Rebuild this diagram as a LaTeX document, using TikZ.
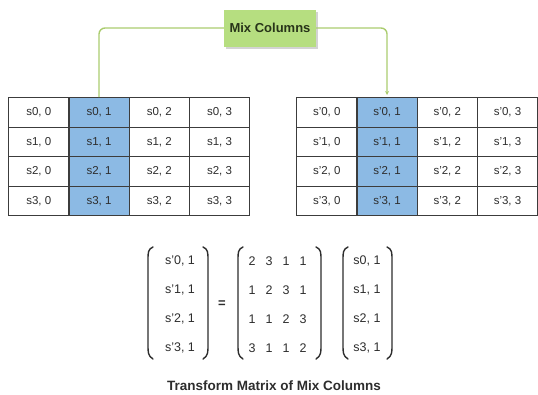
\documentclass[tikz,border=0pt]{standalone}
\usepackage{fontspec}
\setmainfont{Liberation Sans}
\usetikzlibrary{shadows,arrows.meta}
\definecolor{cellblue}{RGB}{140,186,228}
\definecolor{boxgreen}{RGB}{182,222,128}
\definecolor{linegreen}{RGB}{170,204,110}
\definecolor{txt}{RGB}{45,45,45}
\definecolor{boxtxt}{RGB}{40,52,25}
\definecolor{gridline}{RGB}{60,60,60}
\begin{document}
\begin{tikzpicture}[x=1pt,y=-1pt,
  cell/.style={draw=gridline, line width=1.3pt, minimum width=60.25pt, minimum height=29.5pt,
    inner sep=0pt, anchor=north west, font=\fontsize{11.5}{13}\selectfont, text=txt},
  hicell/.style={cell, fill=cellblue},
  mixbox/.style={fill=boxgreen, minimum width=92pt, minimum height=37pt, inner sep=2pt,
    font=\bfseries\fontsize{13}{15}\selectfont, text=boxtxt,
    drop shadow={shadow xshift=1.5pt, shadow yshift=-2.5pt, opacity=0.35}},
  conn/.style={draw=linegreen, line width=1.4pt, rounded corners=6pt},
  entry/.style={font=\fontsize{12.5}{14}\selectfont, text=txt, inner sep=0pt},
  paren/.style={draw=txt, line width=1.4pt, line cap=round},
  caption/.style={font=\bfseries\fontsize{13.5}{16}\selectfont, text=txt}]
\useasboundingbox (0,0) rectangle (538,394);

% left state table
\foreach \r in {0,...,3}{
  \foreach \c in {0,...,3}{
    \ifnum\c=1
      \node[hicell] (L-\r-\c) at ({8+60.25*\c},{97+29.5*\r}) {s\r, \c};
    \else
      \node[cell] (L-\r-\c) at ({8+60.25*\c},{97+29.5*\r}) {s\r, \c};
    \fi
  }
}
% right state table
\foreach \r in {0,...,3}{
  \foreach \c in {0,...,3}{
    \ifnum\c=1
      \node[hicell] (R-\r-\c) at ({296+60.25*\c},{97+29.5*\r}) {s'\r, \c};
    \else
      \node[cell] (R-\r-\c) at ({296+60.25*\c},{97+29.5*\r}) {s'\r, \c};
    \fi
  }
}

% Mix Columns box and connectors
\node[mixbox] (mix) at (270,28) {Mix Columns};
\draw[conn] (mix.west) -| (L-0-1.north);
\draw[conn, -{Stealth[length=4pt,width=4pt]}] (mix.east) -| ([yshift=2pt]R-0-1.north);

% equation: left vector
\foreach \r/\y in {0/261,1/290,2/319,3/348}{
  \node[entry] (a\r) at (180,\y) {s'\r, 1};
}
\draw[paren] (153,247) .. controls (148,249) and (148,253) .. (148,259) -- (148,346) .. controls (148,352) and (148,356) .. (153,359);
\draw[paren] (203,247) .. controls (208,249) and (208,253) .. (208,259) -- (208,346) .. controls (208,352) and (208,356) .. (203,359);
\node[entry, font=\bfseries\fontsize{13}{15}\selectfont] (eq) at (222,304) {=};

% transform matrix
\foreach \r/\y/\a/\b/\c/\d in {0/261/2/3/1/1, 1/290/1/2/3/1, 2/319/1/1/2/3, 3/348/3/1/1/2}{
  \node[entry] (m\r0) at (252,\y) {\a};
  \node[entry] (m\r1) at (269,\y) {\b};
  \node[entry] (m\r2) at (286,\y) {\c};
  \node[entry] (m\r3) at (303,\y) {\d};
}
\draw[paren] (243,247) .. controls (238,249) and (238,253) .. (238,259) -- (238,346) .. controls (238,352) and (238,356) .. (243,359);
\draw[paren] (316,247) .. controls (321,249) and (321,253) .. (321,259) -- (321,346) .. controls (321,352) and (321,356) .. (316,359);

% right vector
\foreach \r/\y in {0/261,1/290,2/319,3/348}{
  \node[entry] (b\r) at (367,\y) {s\r, 1};
}
\draw[paren] (348,247) .. controls (343,249) and (343,253) .. (343,259) -- (343,346) .. controls (343,352) and (343,356) .. (348,359);
\draw[paren] (387,247) .. controls (392,249) and (392,253) .. (392,259) -- (392,346) .. controls (392,352) and (392,356) .. (387,359);

\node[caption] (cap) at (274,386) {Transform Matrix of Mix Columns};
\end{tikzpicture}
\end{document}
